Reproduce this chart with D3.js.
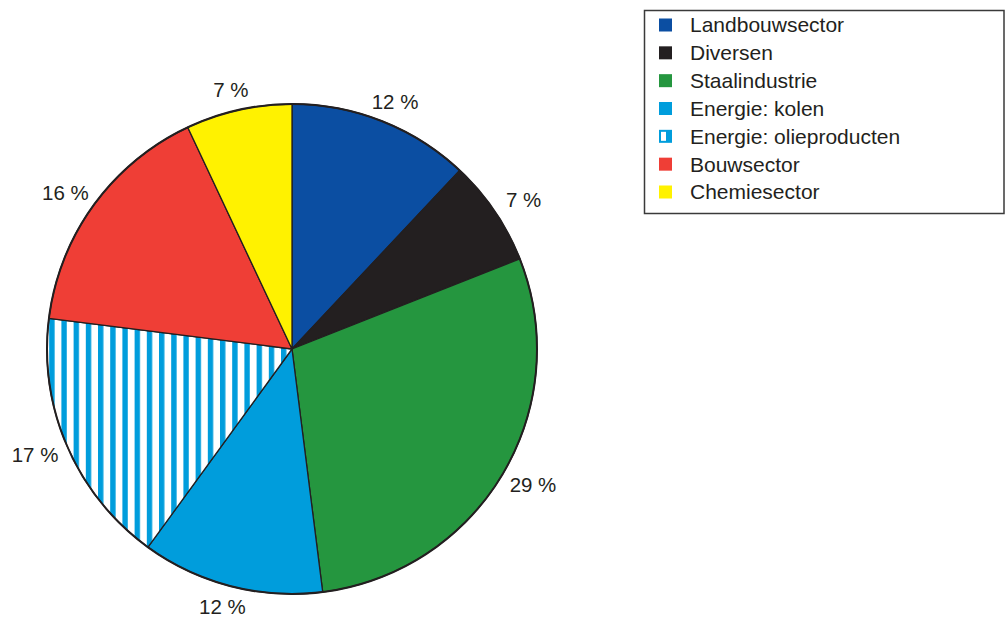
<!DOCTYPE html>
<html>
<head>
<meta charset="utf-8">
<script src="https://cdn.jsdelivr.net/npm/d3@7"></script>
<style>
  html, body { margin: 0; padding: 0; background: #fff; }
  svg { display: block; }
  text { font-family: "Liberation Sans", Arial, sans-serif; fill: #231f20; }
</style>
</head>
<body>
<svg id="chart" width="1005" height="619"></svg>
<script>
const categories = ["Landbouwsector", "Diversen", "Staalindustrie", "Energie: kolen", "Energie: olieproducten", "Bouwsector", "Chemiesector"];
const values = [12, 7, 29, 12, 17, 16, 7];
const labels = ["12 %", "7 %", "29 %", "12 %", "17 %", "16 %", "7 %"];
const colors = ["#0b4ea2", "#231f20", "#25963f", "#009ddc", "striped", "#ef3e36", "#fff200"];

const svg = d3.select("#chart");
const cx = 292, cy = 349, R = 245;

// stripe pattern
const defs = svg.append("defs");
const pat = defs.append("pattern")
  .attr("id", "stripes")
  .attr("patternUnits", "userSpaceOnUse")
  .attr("x", 1.2).attr("y", 0)
  .attr("width", 12.2).attr("height", 10);
pat.append("rect").attr("width", 12.2).attr("height", 10).attr("fill", "#ffffff");
pat.append("rect").attr("width", 5.4).attr("height", 10).attr("fill", "#009ddc");

const fillFor = c => c === "striped" ? "url(#stripes)" : c;

const pie = d3.pie().sort(null).value(d => d).startAngle(0).endAngle(2 * Math.PI);
const arcs = pie(values);
const arc = d3.arc().innerRadius(0).outerRadius(R);

const g = svg.append("g");
g.selectAll("path.slice")
  .data(arcs)
  .enter().append("path")
  .attr("class", "slice")
  .attr("transform", `translate(${cx},${cy})`)
  .attr("d", arc)
  .attr("fill", (d, i) => fillFor(colors[i]))
  .attr("stroke", "#231f20")
  .attr("stroke-width", 1.3)
  .attr("stroke-linejoin", "round");

// outer rim
g.append("circle")
  .attr("cx", cx).attr("cy", cy).attr("r", R)
  .attr("fill", "none")
  .attr("stroke", "#231f20")
  .attr("stroke-width", 2);

// percentage labels
g.selectAll("text.lbl")
  .data(arcs)
  .enter().append("text")
  .attr("class", "lbl")
  .attr("x", d => {
    const a = (d.startAngle + d.endAngle) / 2;
    return cx + 280 * Math.sin(a);
  })
  .attr("y", d => {
    const a = (d.startAngle + d.endAngle) / 2;
    return cy - 266 * Math.cos(a);
  })
  .attr("dy", "0.35em")
  .attr("text-anchor", "middle")
  .attr("font-size", 20.5)
  .text((d, i) => labels[i]);

// legend
const lx = 644.5, ly = 10.5, lw = 359.5, lh = 203;
const leg = svg.append("g");
leg.append("rect")
  .attr("x", lx).attr("y", ly).attr("width", lw).attr("height", lh)
  .attr("fill", "#fff").attr("stroke", "#3a3a3a").attr("stroke-width", 1.5);

const rowY = d3.scalePoint().domain(categories).range([25, 192]);
const items = leg.selectAll("g.item").data(categories).enter().append("g")
  .attr("class", "item")
  .attr("transform", d => `translate(0,${rowY(d)})`);

items.append("rect")
  .attr("x", 659).attr("y", -6.5).attr("width", 13).attr("height", 13)
  .attr("fill", (d, i) => colors[i] === "striped" ? "#009ddc" : colors[i]);
items.filter((d, i) => colors[i] === "striped")
  .append("rect")
  .attr("x", 661).attr("y", -4.5).attr("width", 5).attr("height", 9)
  .attr("fill", "#fff");

items.append("text")
  .attr("x", 690).attr("y", 0)
  .attr("dy", "0.35em")
  .attr("font-size", 21)
  .text(d => d);
</script>
</body>
</html>
